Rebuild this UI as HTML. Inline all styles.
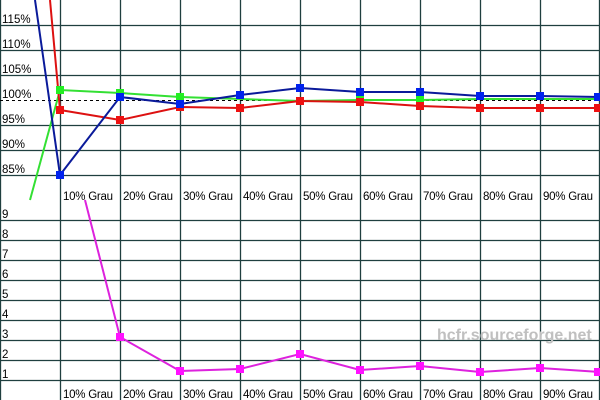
<!DOCTYPE html>
<html><head><style>body{margin:0;background:#fff}svg{display:block}</style></head><body>
<svg width="600" height="400" xmlns="http://www.w3.org/2000/svg" font-family="Liberation Sans, sans-serif" font-size="11.5">
<rect width="600" height="400" fill="#fff"/>
<g stroke="#1f3f3f" stroke-width="1.3" fill="none">
<path d="M0.5 0V400M60.5 0V400M120.5 0V400M180.5 0V400M240.5 0V400M300.5 0V400M360.5 0V400M420.5 0V400M480.5 0V400M540.5 0V400M599.5 0V400"/>
<path d="M0 25.5H600M0 50.5H600M0 75.5H600M0 125.5H600M0 150.5H600M0 175.5H600"/>
<path d="M0 220.5H600M0 240.5H600M0 260.5H600M0 280.5H600M0 300.5H600M0 320.5H600M0 340.5H600M0 360.5H600M0 380.5H600"/>
</g>
<path d="M0 100.5H600" stroke="#000" stroke-dasharray="3,3" stroke-width="1"/>
<g fill="#000">
<text x="2" y="23">115%</text><text x="2" y="48">110%</text><text x="2" y="73">105%</text><text x="2" y="98">100%</text>
<text x="2" y="123">95%</text><text x="2" y="148">90%</text><text x="2" y="173">85%</text>
<text x="2" y="218">9</text><text x="2" y="238">8</text><text x="2" y="258">7</text><text x="2" y="278">6</text><text x="2" y="298">5</text><text x="2" y="318">4</text><text x="2" y="338">3</text><text x="2" y="358">2</text><text x="2" y="378">1</text>
<g>
<text x="63" y="200" textLength="50">10% Grau</text><text x="123" y="200" textLength="50">20% Grau</text><text x="183" y="200" textLength="50">30% Grau</text><text x="243" y="200" textLength="50">40% Grau</text><text x="303" y="200" textLength="50">50% Grau</text><text x="363" y="200" textLength="50">60% Grau</text><text x="423" y="200" textLength="50">70% Grau</text><text x="483" y="200" textLength="50">80% Grau</text><text x="543" y="200" textLength="50">90% Grau</text>
<text x="63" y="398" textLength="50">10% Grau</text><text x="123" y="398" textLength="50">20% Grau</text><text x="183" y="398" textLength="50">30% Grau</text><text x="243" y="398" textLength="50">40% Grau</text><text x="303" y="398" textLength="50">50% Grau</text><text x="363" y="398" textLength="50">60% Grau</text><text x="423" y="398" textLength="50">70% Grau</text><text x="483" y="398" textLength="50">80% Grau</text><text x="543" y="398" textLength="50">90% Grau</text>
</g></g>
<text x="437" y="340" font-size="16" font-weight="bold" fill="#c0c0c0">hcfr.sourceforge.net</text>
<g fill="none" stroke-width="2">
<polyline stroke="#33e033" points="30,200 60,90 120,93 180,97 240,99 300,101 360,100 420,100 480,99 540,99 600,99"/>
<polyline stroke="#dd1111" points="50,0 60,110 120,120 180,107 240,108 300,101 360,102 420,106 480,108 540,108 600,108"/>
<polyline stroke="#0a1a9a" points="35,0 60,175 120,97 180,104 240,95 300,88 360,92 420,92 480,96 540,96 600,97"/>
<polyline stroke="#dd22dd" points="85,200 120,337 180,371 240,369 300,354 360,370 420,366 480,372 540,368 600,372"/>
</g>
<g fill="#22ee22"><rect x="56" y="86" width="8" height="8"/><rect x="116" y="89" width="8" height="8"/><rect x="176" y="93" width="8" height="8"/><rect x="356" y="96" width="8" height="8"/><rect x="416" y="96" width="8" height="8"/></g>
<g fill="#ee1111"><rect x="56" y="106" width="8" height="8"/><rect x="116" y="116" width="8" height="8"/><rect x="176" y="103" width="8" height="8"/><rect x="236" y="104" width="8" height="8"/><rect x="296" y="97" width="8" height="8"/><rect x="356" y="98" width="8" height="8"/><rect x="416" y="102" width="8" height="8"/><rect x="476" y="104" width="8" height="8"/><rect x="536" y="104" width="8" height="8"/><rect x="594" y="104" width="8" height="8"/></g>
<g fill="#0022ee"><rect x="56" y="171" width="8" height="8"/><rect x="116" y="93" width="8" height="8"/><rect x="176" y="100" width="8" height="8"/><rect x="236" y="91" width="8" height="8"/><rect x="296" y="84" width="8" height="8"/><rect x="356" y="88" width="8" height="8"/><rect x="416" y="88" width="8" height="8"/><rect x="476" y="92" width="8" height="8"/><rect x="536" y="92" width="8" height="8"/><rect x="594" y="93" width="8" height="8"/></g>
<g fill="#ff11ff"><rect x="116" y="333" width="8" height="8"/><rect x="176" y="367" width="8" height="8"/><rect x="236" y="365" width="8" height="8"/><rect x="296" y="350" width="8" height="8"/><rect x="356" y="366" width="8" height="8"/><rect x="416" y="362" width="8" height="8"/><rect x="476" y="368" width="8" height="8"/><rect x="536" y="364" width="8" height="8"/><rect x="594" y="368" width="8" height="8"/></g>
</svg>
</body></html>
